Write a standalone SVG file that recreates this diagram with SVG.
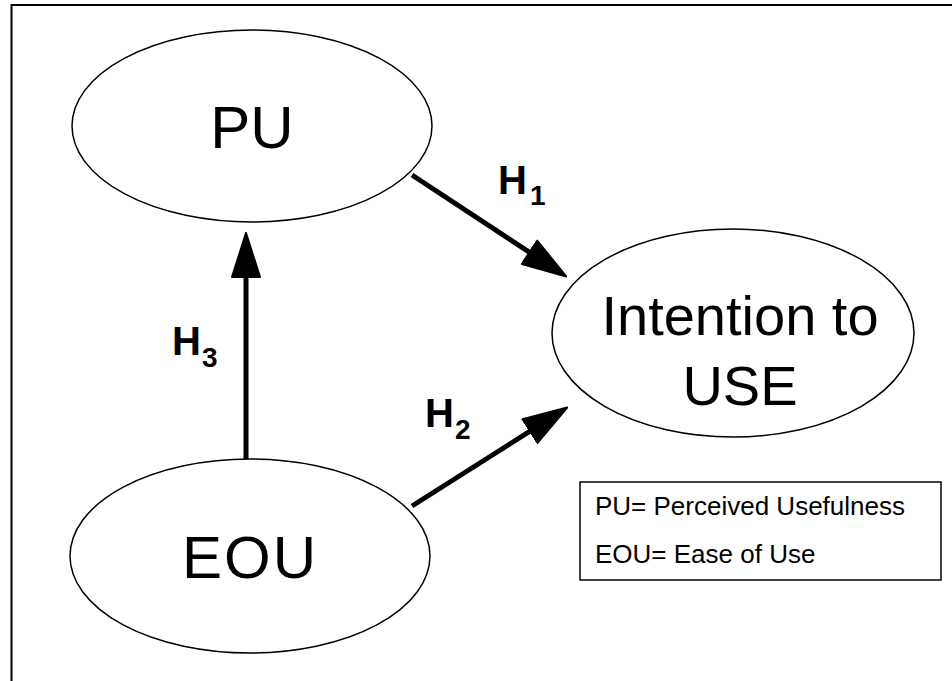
<svg xmlns="http://www.w3.org/2000/svg" width="952" height="681" viewBox="0 0 952 681">
<defs>
<style>
.node{fill:#fff;stroke:#000;stroke-width:1.5}
.big{font-family:"Liberation Sans",Arial,sans-serif;text-anchor:middle;fill:#000}
.h{font-family:"Liberation Sans",Arial,sans-serif;font-weight:bold;fill:#000}
.leg{font-family:"Liberation Sans",Arial,sans-serif;font-size:26px;fill:#000}
.conn{stroke:#000;stroke-width:5;fill:none}
</style>
<marker id="ah" markerUnits="userSpaceOnUse" markerWidth="46" markerHeight="32" viewBox="0 0 46 32" refX="16" refY="16" orient="auto">
<path d="M1,2 L45,16 L1,30 Z" fill="#000" stroke="#000" stroke-width="2" stroke-linejoin="round"/>
</marker>
</defs>
<rect width="952" height="681" fill="#fff"/>
<path d="M11.5,681 V5 H952" fill="none" stroke="#000" stroke-width="2"/>
<g id="PU">
<ellipse class="node" cx="252" cy="126" rx="180" ry="96"/>
<text class="big" x="252" y="148" font-size="60">PU</text>
</g>
<g id="EOU">
<ellipse class="node" cx="250" cy="556" rx="180" ry="97"/>
<text class="big" x="250" y="578" font-size="60" letter-spacing="2">EOU</text>
</g>
<g id="ITU">
<ellipse class="node" cx="733" cy="333" rx="181" ry="104"/>
<text class="big" x="740" y="335" font-size="56">Intention to</text>
<text class="big" x="740" y="405" font-size="56">USE</text>
</g>
<g id="connectors">
<line class="conn" x1="412" y1="175" x2="542" y2="260.5" marker-end="url(#ah)"/>
<line class="conn" x1="246" y1="459" x2="246" y2="262" marker-end="url(#ah)"/>
<line class="conn" x1="412" y1="506" x2="542.7" y2="423.1" marker-end="url(#ah)"/>
<text class="h" x="498" y="194" font-size="40">H</text><text class="h" x="530" y="205" font-size="28">1</text>
<text class="h" x="425" y="427" font-size="40">H</text><text class="h" x="455" y="439" font-size="28">2</text>
<text class="h" x="172" y="355" font-size="40">H</text><text class="h" x="202" y="367" font-size="28">3</text>
</g>
<g id="legend">
<rect x="580" y="482" width="361" height="98" fill="#fff" stroke="#000" stroke-width="1.5"/>
<text class="leg" x="595" y="515">PU= Perceived Usefulness</text>
<text class="leg" x="595" y="563">EOU= Ease of Use</text>
</g>
</svg>
